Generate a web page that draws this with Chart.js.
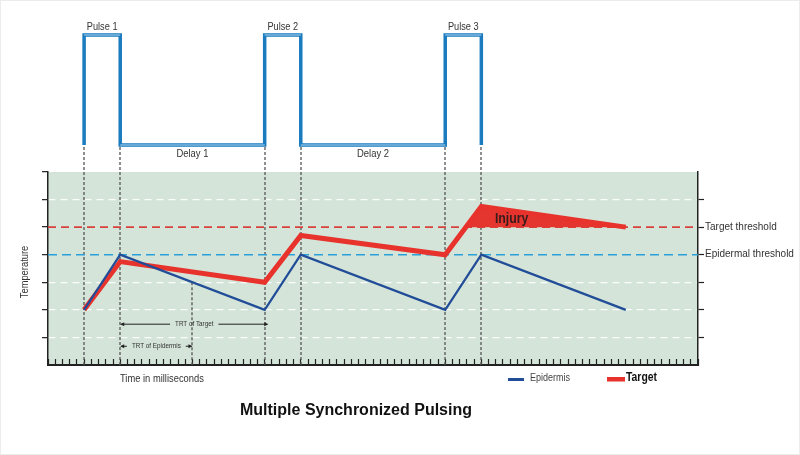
<!DOCTYPE html>
<html>
<head>
<meta charset="utf-8">
<script src="https://cdn.jsdelivr.net/npm/chart.js@4.4.1/dist/chart.umd.min.js"></script>
<style>
  html, body { margin: 0; padding: 0; background: #fff; }
  canvas { display: block; }
</style>
</head>
<body>
<canvas id="pulsing-chart" width="800" height="455"></canvas>
<script>
// time runs in minor tick units along the bottom axis
var timeMax = 90;
var pulseStart = [5, 30, 55];
var pulseEnd = [10, 35, 60];
var pulseLabels = ["Pulse 1", "Pulse 2", "Pulse 3"];
var delayLabels = ["Delay 1", "Delay 2"];

// temperature curves (0 = bottom of the plot, 7 = top)
var times = [5, 10, 30, 35, 55, 60, 80];
var epidermis = [2, 4, 2, 4, 2, 4, 2];
var target = [2, 3.75, 3, 4.7, 4, 5.75, 5];

var targetThreshold = 5;
var epidermalThreshold = 4;
var thresholdLabels = { 5: "Target threshold", 4: "Epidermal threshold" };

// thermal relaxation time spans [from, to]
var trtTarget = [10, 30.5];
var trtEpidermis = [10, 20];

var FONT = "'Liberation Sans', Arial, sans-serif";
var NARROW = 0.84; // horizontal squeeze, the original uses a condensed face

function toPoints(xs, ys) {
  return xs.map(function (x, i) {
    return { x: x, y: ys[i] };
  });
}

// square pulse train, 0 = off, 1 = on
var pulsePoints = [];
pulseStart.forEach(function (s, i) {
  pulsePoints.push({ x: s, y: 0 }, { x: s, y: 1 }, { x: pulseEnd[i], y: 1 }, { x: pulseEnd[i], y: 0 });
});

// part of the target curve above its threshold
var injuryPoints = [];
for (var i = 1; i < times.length; i++) {
  var a = target[i - 1], b = target[i];
  if (a < targetThreshold && b > targetThreshold) {
    var t = times[i - 1] + ((targetThreshold - a) / (b - a)) * (times[i] - times[i - 1]);
    injuryPoints.push({ x: t, y: targetThreshold });
  }
  if (b >= targetThreshold && injuryPoints.length) injuryPoints.push({ x: times[i], y: b });
}

// pulse axis sits above the plot: off at y=145px, on at y=35px (plot is 172..365)
var plotTop = 172, plotBottom = 365, pulseOffPx = 145, pulseOnPx = 35;
var pxPerPulse = pulseOffPx - pulseOnPx;
var plotH = plotBottom - plotTop;
var pulseMin = -(plotBottom - pulseOffPx) / pxPerPulse;
var pulseMax = pulseMin + plotH / pxPerPulse;

function squeezedText(ctx, text, x, y, ratio) {
  ctx.save();
  ctx.translate(x, y);
  ctx.scale(ratio, 1);
  ctx.fillText(text, 0, 0);
  ctx.restore();
}

function drawArrow(ctx, x1, x2, y, label, size) {
  ctx.font = size + "px " + FONT;
  var w = ctx.measureText(label).width * NARROW;
  var mid = (x1 + x2) / 2;
  ctx.strokeStyle = "#222";
  ctx.fillStyle = "#222";
  ctx.lineWidth = 1;
  ctx.beginPath();
  ctx.moveTo(x1 + 1, y);
  ctx.lineTo(mid - w / 2 - 5, y);
  ctx.moveTo(mid + w / 2 + 5, y);
  ctx.lineTo(x2 - 1, y);
  ctx.stroke();
  ctx.beginPath();
  ctx.moveTo(x1, y);
  ctx.lineTo(x1 + 4, y - 2);
  ctx.lineTo(x1 + 4, y + 2);
  ctx.closePath();
  ctx.moveTo(x2, y);
  ctx.lineTo(x2 - 4, y - 2);
  ctx.lineTo(x2 - 4, y + 2);
  ctx.closePath();
  ctx.fill();
  ctx.fillStyle = "#333";
  ctx.textAlign = "center";
  ctx.textBaseline = "middle";
  squeezedText(ctx, label, mid, y, NARROW);
}

var decorations = {
  id: "decorations",
  beforeDraw: function (chart) {
    var ctx = chart.ctx, area = chart.chartArea, y = chart.scales.y;
    ctx.save();
    ctx.fillStyle = "#fff";
    ctx.fillRect(0, 0, chart.width, chart.height);
    ctx.strokeStyle = "#ececec";
    ctx.strokeRect(0.5, 0.5, chart.width - 1, chart.height - 1);
    ctx.fillStyle = "#d4e4d8";
    var top = y.getPixelForValue(7), bottom = y.getPixelForValue(0);
    ctx.fillRect(area.left, top, area.right - area.left, bottom - top);
    ctx.restore();
  },
  beforeDatasetsDraw: function (chart) {
    var ctx = chart.ctx, x = chart.scales.x, y = chart.scales.y, yp = chart.scales.yp;
    ctx.save();
    ctx.strokeStyle = "#555";
    ctx.lineWidth = 1.3;
    ctx.setLineDash([3, 2]);
    var edges = pulseStart.concat(pulseEnd);
    ctx.beginPath();
    edges.forEach(function (t) {
      var px = Math.round(x.getPixelForValue(t));
      ctx.moveTo(px, yp.getPixelForValue(0) + 2);
      ctx.lineTo(px, y.getPixelForValue(0));
    });
    // end of epidermis relaxation
    var ex = Math.round(x.getPixelForValue(trtEpidermis[1]));
    ctx.moveTo(ex, y.getPixelForValue(3));
    ctx.lineTo(ex, y.getPixelForValue(0));
    ctx.stroke();
    ctx.restore();
  },
  afterDraw: function (chart) {
    var ctx = chart.ctx, x = chart.scales.x, y = chart.scales.y, yp = chart.scales.yp;
    ctx.save();

    // pulse and delay captions
    ctx.fillStyle = "#333";
    ctx.textAlign = "center";
    ctx.textBaseline = "middle";
    ctx.font = "11.5px " + FONT;
    pulseLabels.forEach(function (lab, i) {
      squeezedText(ctx, lab, x.getPixelForValue((pulseStart[i] + pulseEnd[i]) / 2), yp.getPixelForValue(1) - 8, 0.8);
    });
    delayLabels.forEach(function (lab, i) {
      squeezedText(ctx, lab, x.getPixelForValue((pulseEnd[i] + pulseStart[i + 1]) / 2), yp.getPixelForValue(0) + 9, 0.82);
    });

    // injury label
    ctx.font = "bold 14px " + FONT;
    ctx.fillStyle = "#3a1c1c";
    squeezedText(ctx, "Injury", x.getPixelForValue(64.2), y.getPixelForValue(5.3), 0.88);

    // TRT arrows
    drawArrow(ctx, x.getPixelForValue(trtTarget[0]), x.getPixelForValue(trtTarget[1]), y.getPixelForValue(1.48), "TRT of Target", 7.5);
    drawArrow(ctx, x.getPixelForValue(trtEpidermis[0]), x.getPixelForValue(trtEpidermis[1]), y.getPixelForValue(0.68), "TRT of Epidermis", 7.5);

    // axis captions
    ctx.fillStyle = "#333";
    ctx.font = "11px " + FONT;
    ctx.textAlign = "left";
    squeezedText(ctx, "Time in milliseconds", 120, 379, 0.85);
    ctx.save();
    ctx.translate(25, 272);
    ctx.rotate(-Math.PI / 2);
    ctx.textAlign = "center";
    squeezedText(ctx, "Temperature", 0, 0, 0.85);
    ctx.restore();

    // legend
    ctx.fillStyle = "#214c98";
    ctx.fillRect(508, 378, 16, 3);
    ctx.fillStyle = "#444";
    ctx.font = "11px " + FONT;
    squeezedText(ctx, "Epidermis", 530, 378, 0.82);
    ctx.fillStyle = "#e8332d";
    ctx.fillRect(607, 377, 18, 4.5);
    ctx.fillStyle = "#111";
    ctx.font = "bold 13px " + FONT;
    squeezedText(ctx, "Target", 626, 377, 0.8);

    // title
    ctx.textAlign = "center";
    ctx.font = "bold 16px " + FONT;
    ctx.fillText("Multiple Synchronized Pulsing", 356, 411);
    ctx.restore();
  }
};

var ctxPulsing = document.getElementById("pulsing-chart").getContext("2d");

var pulsingChart = new Chart(ctxPulsing, {
  type: "line",
  data: {
    datasets: [
      {
        label: "pulse-inner",
        data: pulsePoints,
        yAxisID: "yp",
        borderColor: "#b4daf2",
        borderWidth: 1.2,
        clip: false,
        segment: {
          borderColor: function (c) {
            return c.p0.parsed.x === c.p1.parsed.x ? "rgba(0,0,0,0)" : "#b4daf2";
          },
        },
      },
      {
        label: "pulse",
        data: pulsePoints,
        yAxisID: "yp",
        borderColor: "#1a7bbf",
        borderWidth: 3.5,
        clip: false,
      },
      {
        label: "Epidermis",
        data: toPoints(times, epidermis),
        borderColor: "#214c98",
        borderWidth: 2.2,
      },
      {
        label: "Target",
        data: toPoints(times, target),
        borderColor: "#e8332d",
        borderWidth: 5,
      },
      {
        label: "Injury",
        data: injuryPoints,
        borderWidth: 0,
        borderColor: "rgba(0,0,0,0)",
        backgroundColor: "#e4352e",
        fill: { value: targetThreshold },
      },
      {
        label: "Target threshold",
        data: [{ x: 0, y: targetThreshold }, { x: timeMax, y: targetThreshold }],
        borderColor: "#d8413b",
        borderWidth: 1.6,
        borderDash: [8, 5],
      },
      {
        label: "Epidermal threshold",
        data: [{ x: 0, y: epidermalThreshold }, { x: timeMax, y: epidermalThreshold }],
        borderColor: "#2aa0d8",
        borderWidth: 1.6,
        borderDash: [9, 5],
      },
    ],
  },
  plugins: [decorations],
  options: {
    responsive: false,
    animation: false,
    devicePixelRatio: 1,
    events: [],
    layout: { padding: { top: plotTop, left: 0, right: 0, bottom: 0 } },
    elements: {
      point: { radius: 0 },
      line: { tension: 0, borderJoinStyle: "miter", fill: false },
    },
    plugins: {
      legend: { display: false },
      tooltip: { enabled: false },
    },
    scales: {
      x: {
        type: "linear",
        min: 0,
        max: timeMax,
        ticks: { display: false, stepSize: 1, maxTicksLimit: 200 },
        grid: { drawOnChartArea: false, tickLength: -6, tickColor: "#222", tickWidth: 1.2 },
        border: { color: "#222", width: 2 },
        afterFit: function (s) { s.height = 455 - plotBottom; },
      },
      y: {
        position: "left",
        min: 0,
        max: 7,
        ticks: { display: false, stepSize: 1 },
        grid: {
          color: function (c) {
            return [1, 2, 3, 6].indexOf(c.tick.value) >= 0 ? "rgba(255,255,255,0.9)" : "rgba(0,0,0,0)";
          },
          lineWidth: 1.3,
          tickLength: 6,
          tickColor: function (c) {
            return c.tick.value > 0 ? "#222" : "rgba(0,0,0,0)";
          },
          tickWidth: 1.2,
        },
        border: { color: "#222", width: 1.5, dash: [7, 5] },
        afterFit: function (s) { s.width = 48; },
      },
      y2: {
        position: "right",
        min: 0,
        max: 7,
        ticks: {
          stepSize: 1,
          padding: 1,
          color: "#333",
          font: { family: FONT, size: 10 },
          callback: function (v) { return thresholdLabels[v] || ""; },
        },
        grid: {
          drawOnChartArea: false,
          tickLength: 6,
          tickWidth: 1.2,
          tickColor: function (c) {
            return c.tick.value > 0 && c.tick.value < 7 ? "#222" : "rgba(0,0,0,0)";
          },
        },
        border: { color: "#222", width: 1.5 },
        afterFit: function (s) { s.width = 102; },
      },
      yp: {
        display: false,
        min: pulseMin,
        max: pulseMax,
      },
    },
  },
});
</script>
</body>
</html>
